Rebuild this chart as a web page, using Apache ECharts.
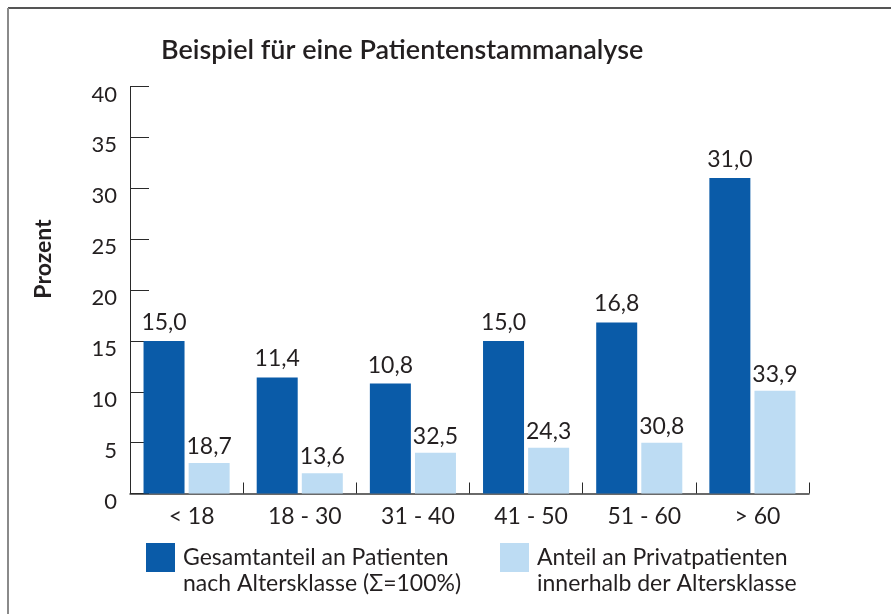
<!DOCTYPE html>
<html>
<head>
<meta charset="utf-8">
<script src="https://cdn.jsdelivr.net/npm/echarts@6/dist/echarts.min.js"></script>
<style>
  html, body { margin: 0; padding: 0; background: #ffffff; }
  #chart { width: 891px; height: 614px; }
</style>
</head>
<body>
<div id="chart"></div>
<script>
// Altersklassen der Patienten
const altersklassen = ['< 18', '18 - 30', '31 - 40', '41 - 50', '51 - 60', '> 60'];
// Anteil jeder Altersklasse am gesamten Patientenstamm (Prozent, Summe 100)
const gesamtanteil = [15.0, 11.4, 10.8, 15.0, 16.8, 31.0];
// Privatpatienten der Altersklasse, bezogen auf alle Patienten (Prozent, Balkenhöhe)
const privatAnteilGesamt = [3.0, 2.0, 4.0, 4.5, 5.0, 10.1];
// Anteil der Privatpatienten innerhalb der jeweiligen Altersklasse (Prozent, Beschriftung)
const privatAnteilInKlasse = [18.7, 13.6, 32.5, 24.3, 30.8, 33.9];
// Achsenbereich der Prozentachse
const yMin = 0, yMax = 40, yStep = 5;

// Legendentexte; die leere erste Zeile setzt den Text bündig unter die Oberkante des Farbfelds
const legendeGesamt = ['', 'Gesamtanteil an Patienten', 'nach Altersklasse (\u03A3=100%)'].join('\n');
const legendePrivat = ['', 'Anteil an Privatpatienten', 'innerhalb der Altersklasse'].join('\n');

const FONT = 'Lato';
const TEXT = '#231f20';
const DUNKEL = '#0a5ba8';
const HELL = '#bddcf3';

const fmt = v => v.toFixed(1).replace('.', ',');

const legendBase = {
  top: 518.5,
  padding: 0,
  itemWidth: 29,
  itemHeight: 29,
  icon: 'rect',
  selectedMode: false,
  textStyle: { fontFamily: FONT, fontSize: 23, lineHeight: 26, color: TEXT, padding: [0, 0, 0, 3] }
};

const chart = echarts.init(document.getElementById('chart'), null, { renderer: 'canvas' });

chart.setOption({
  backgroundColor: '#ffffff',
  animation: false,
  textStyle: { fontFamily: FONT, color: TEXT },
  title: {
    text: 'Beispiel für eine Patientenstammanalyse',
    left: 161,
    top: 37,
    padding: 0,
    textStyle: { fontFamily: FONT, fontSize: 27, fontWeight: 600, color: TEXT }
  },
  grid: {
    left: 130,
    right: 82,
    top: 86.5,
    bottom: 120.5,
    containLabel: false,
    outerBoundsMode: 'none'
  },
  legend: [
    Object.assign({}, legendBase, { data: ['gesamt'], left: 146, formatter: () => legendeGesamt }),
    Object.assign({}, legendBase, { data: ['privat'], left: 500, formatter: () => legendePrivat })
  ],
  xAxis: {
    type: 'category',
    data: altersklassen,
    boundaryGap: true,
    axisLine: { show: true, lineStyle: { color: '#3a3a3a', width: 1.5 } },
    axisTick: { show: true, inside: true, length: 11, alignWithLabel: false, lineStyle: { color: '#2a2a2a', width: 1 } },
    axisLabel: { fontFamily: FONT, fontSize: 23, color: TEXT, margin: 12, padding: [0, 0, 0, 10] },
    splitLine: { show: false }
  },
  yAxis: {
    type: 'value',
    min: yMin,
    max: yMax,
    interval: yStep,
    name: 'Prozent',
    nameLocation: 'middle',
    nameRotate: 90,
    nameGap: 75,
    nameTextStyle: { fontFamily: FONT, fontSize: 23, fontWeight: 'bold', color: TEXT, padding: [0, 0, 0, 62] },
    axisLine: { show: true, lineStyle: { color: '#2a2a2a', width: 1 } },
    axisTick: { show: true, inside: true, length: 19, lineStyle: { color: '#2a2a2a', width: 1 } },
    axisLabel: { fontFamily: FONT, fontSize: 22, color: TEXT, margin: 13, verticalAlign: 'top', lineHeight: 22, padding: [-3, 0, 0, 0] },
    splitLine: { show: false }
  },
  series: [
    {
      name: 'gesamt',
      type: 'bar',
      data: gesamtanteil,
      barWidth: 41,
      barGap: '10%',
      itemStyle: { color: DUNKEL },
      label: {
        show: true,
        position: 'top',
        distance: 7,
        fontFamily: FONT,
        fontSize: 23,
        color: TEXT,
        formatter: p => fmt(p.value)
      }
    },
    {
      name: 'privat',
      type: 'bar',
      data: privatAnteilGesamt,
      barWidth: 41,
      barGap: '10%',
      itemStyle: { color: HELL },
      label: {
        show: true,
        position: 'top',
        distance: 5,
        fontFamily: FONT,
        fontSize: 23,
        color: TEXT,
        formatter: p => fmt(privatAnteilInKlasse[p.dataIndex])
      }
    }
  ],
  graphic: [
    {
      type: 'line',
      shape: { x1: 8, y1: 8, x2: 891, y2: 8 },
      style: { stroke: '#1c1c1c', lineWidth: 1.5 },
      silent: true
    },
    {
      type: 'line',
      shape: { x1: 8, y1: 8, x2: 8, y2: 614 },
      style: { stroke: '#8a8a8a', lineWidth: 2 },
      silent: true
    }
  ]
});
</script>
</body>
</html>
